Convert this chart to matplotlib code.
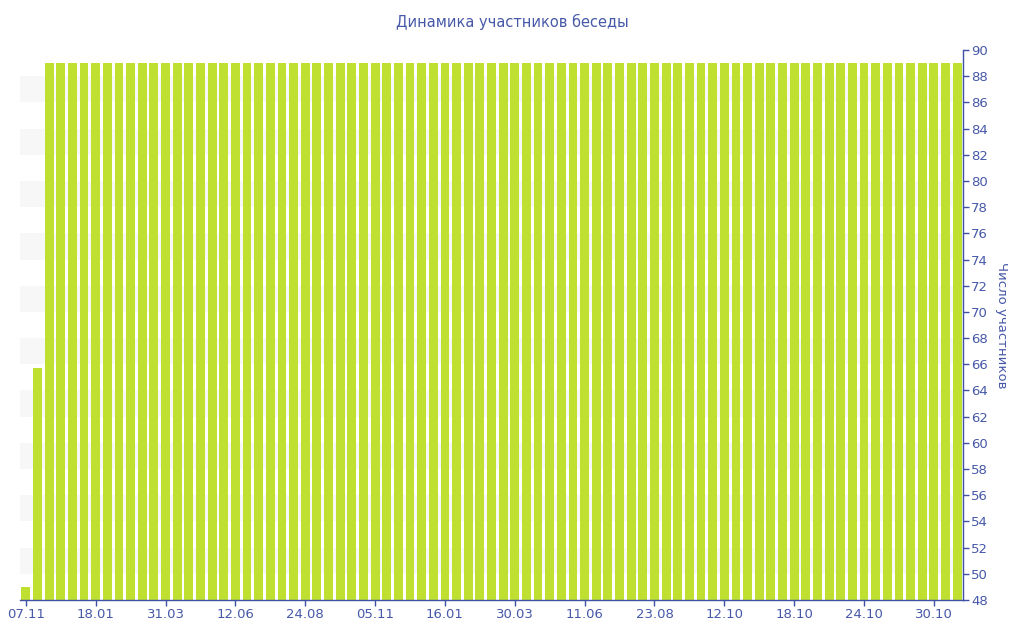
import matplotlib.pyplot as plt

# Число участников по периодам
members = [49, 65.7, 89, 89, 89, 89, 89, 89, 89, 89,
           89, 89, 89, 89, 89, 89, 89, 89, 89, 89,
           89, 89, 89, 89, 89, 89, 89, 89, 89, 89,
           89, 89, 89, 89, 89, 89, 89, 89, 89, 89,
           89, 89, 89, 89, 89, 89, 89, 89, 89, 89,
           89, 89, 89, 89, 89, 89, 89, 89, 89, 89,
           89, 89, 89, 89, 89, 89, 89, 89, 89, 89,
           89, 89, 89, 89, 89, 89, 89, 89, 89, 89,
           89]
tick_labels = ['07.11', '18.01', '31.03', '12.06', '24.08', '05.11', '16.01',
               '30.03', '11.06', '23.08', '12.10', '18.10', '24.10', '30.10']
tick_step = 6

blue = '#3f51a3'
text_blue = '#4658a8'

fig = plt.figure(figsize=(10.24, 6.4), dpi=100)
ax = fig.add_axes([20 / 1024, 40 / 640, 943 / 1024, 550 / 640])

# полосы фона
for y0 in range(50, 88, 4):
    ax.axhspan(y0, y0 + 2, color='#f7f7f7', zorder=0, lw=0)

x = list(range(len(members)))
ax.bar(x, members, width=0.76, color='#bfe030', zorder=2)

ax.set_xlim(-0.5, len(members) - 0.5)
ax.set_ylim(48, 90)
ax.set_xticks(x[::tick_step])
ax.set_xticklabels(tick_labels)
ax.set_yticks(range(48, 91, 2))

ax.yaxis.tick_right()
ax.yaxis.set_label_position('right')
ax.set_ylabel('Число участников', rotation=270, labelpad=14,
              color=text_blue, fontsize=9.5)

for s in ['top', 'left']:
    ax.spines[s].set_visible(False)
for s in ['bottom', 'right']:
    ax.spines[s].set_color(blue)
    ax.spines[s].set_linewidth(1)

ax.tick_params(axis='both', colors=blue, labelcolor=text_blue, labelsize=9.5,
               length=4, width=1, pad=2)

fig.suptitle('Динамика участников беседы', y=0.978, color=text_blue, fontsize=10.5)

plt.savefig('out.png')
